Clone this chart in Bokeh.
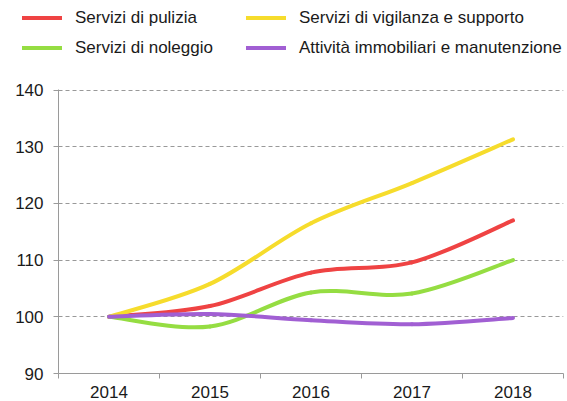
from bokeh.plotting import figure
from bokeh.models import FixedTicker, Div
from bokeh.layouts import column
from bokeh.embed import file_html
from bokeh.resources import INLINE

# ---- data ----
years = ["2014", "2015", "2016", "2017", "2018"]
pulizia = [100.0, 101.9, 107.8, 109.6, 117.0]
vigilanza = [100.0, 105.8, 116.5, 123.6, 131.3]
noleggio = [100.0, 98.3, 104.3, 104.1, 110.0]
immobiliari = [100.0, 100.5, 99.4, 98.7, 99.8]
y_ticks = [90, 100, 110, 120, 130, 140]

labels = ["Servizi di pulizia", "Servizi di vigilanza e supporto",
          "Servizi di noleggio", "Attività immobiliari e manutenzione"]
colors = ["#EF4343", "#F6DC2C", "#95DD42", "#A15FD3"]
values = [pulizia, vigilanza, noleggio, immobiliari]

FONT = "Liberation Sans"
TOP_H = 79

# ---- main chart ----
p = figure(width=567, height=401 - TOP_H, x_range=(0, len(years)), y_range=(90, 140.1),
           output_backend="svg", toolbar_location=None,
           min_border_left=58, min_border_right=4, min_border_top=89 - TOP_H,
           min_border_bottom=28)
p.outline_line_color = None
p.background_fill_color = "white"

xs = [i + 0.5 for i in range(len(years))]


def smooth_segments(x, y):
    # Catmull-Rom style smoothing rendered as cubic Bezier segments
    n = len(x)
    seg = dict(x0=[], y0=[], x1=[], y1=[], cx0=[], cy0=[], cx1=[], cy1=[])
    for i in range(n - 1):
        xm, ym = (x[i - 1], y[i - 1]) if i > 0 else (x[i], y[i])
        xp, yp = (x[i + 2], y[i + 2]) if i + 2 < n else (x[i + 1], y[i + 1])
        seg["x0"].append(x[i]); seg["y0"].append(y[i])
        seg["x1"].append(x[i + 1]); seg["y1"].append(y[i + 1])
        seg["cx0"].append(x[i] + (x[i + 1] - xm) / 6.0)
        seg["cy0"].append(y[i] + (y[i + 1] - ym) / 6.0)
        seg["cx1"].append(x[i + 1] - (xp - x[i]) / 6.0)
        seg["cy1"].append(y[i + 1] - (yp - y[i]) / 6.0)
    return seg


for lab, vals, col in zip(labels, values, colors):
    s = smooth_segments(xs, vals)
    p.bezier(x0=s["x0"], y0=s["y0"], x1=s["x1"], y1=s["y1"],
             cx0=s["cx0"], cy0=s["cy0"], cx1=s["cx1"], cy1=s["cy1"],
             line_color=col, line_width=4, line_cap="round")

# ---- axes ----
xa = p.xaxis[0]
xa.ticker = FixedTicker(ticks=xs, minor_ticks=list(range(len(years) + 1)))
xa.major_label_overrides = {x: y for x, y in zip(xs, years)}
xa.major_tick_line_color = None
xa.major_tick_out = 0
xa.major_tick_in = 0
xa.minor_tick_line_color = "#9a9a9a"
xa.minor_tick_out = 5
xa.minor_tick_in = 0
xa.axis_line_color = "#9a9a9a"
xa.major_label_standoff = 7
xa.major_label_text_font = FONT
xa.major_label_text_font_size = "17px"
xa.major_label_text_color = "#1a1a1a"

ya = p.yaxis[0]
ya.ticker = FixedTicker(ticks=y_ticks)
ya.major_tick_line_color = "#9a9a9a"
ya.major_tick_out = 5
ya.major_tick_in = 0
ya.minor_tick_line_color = None
ya.axis_line_color = "#9a9a9a"
ya.major_label_standoff = 10
ya.major_label_text_font = FONT
ya.major_label_text_font_size = "17px"
ya.major_label_text_color = "#1a1a1a"

p.xgrid.grid_line_color = None
p.ygrid.grid_line_color = "#999999"
p.ygrid.grid_line_dash = "4 3"
p.ygrid.grid_line_width = 1

# ---- legend strip (two columns, HTML) ----
key_pos = [(22, 18), (246, 18), (22, 48), (246, 48)]
parts = []
for (kx, ky), lab, col in zip(key_pos, labels, colors):
    parts.append(
        f'<div style="position:absolute;left:{kx}px;top:{ky - 2}px;width:40px;height:4px;'
        f'background:{col};"></div>'
        f'<div style="position:absolute;left:{kx + 53}px;top:{ky - 10}px;height:20px;'
        f'line-height:20px;white-space:nowrap;">{lab}</div>')
html = (f'<div style="position:relative;width:567px;height:{TOP_H}px;'
        f'font-family:\'{FONT}\';font-size:17px;color:#1a1a1a;">' + "".join(parts) + '</div>')
legend_div = Div(text=html, width=567, height=TOP_H, margin=0)

layout = column(legend_div, p, spacing=0)
open("out.html", "w").write(file_html(layout, INLINE))
